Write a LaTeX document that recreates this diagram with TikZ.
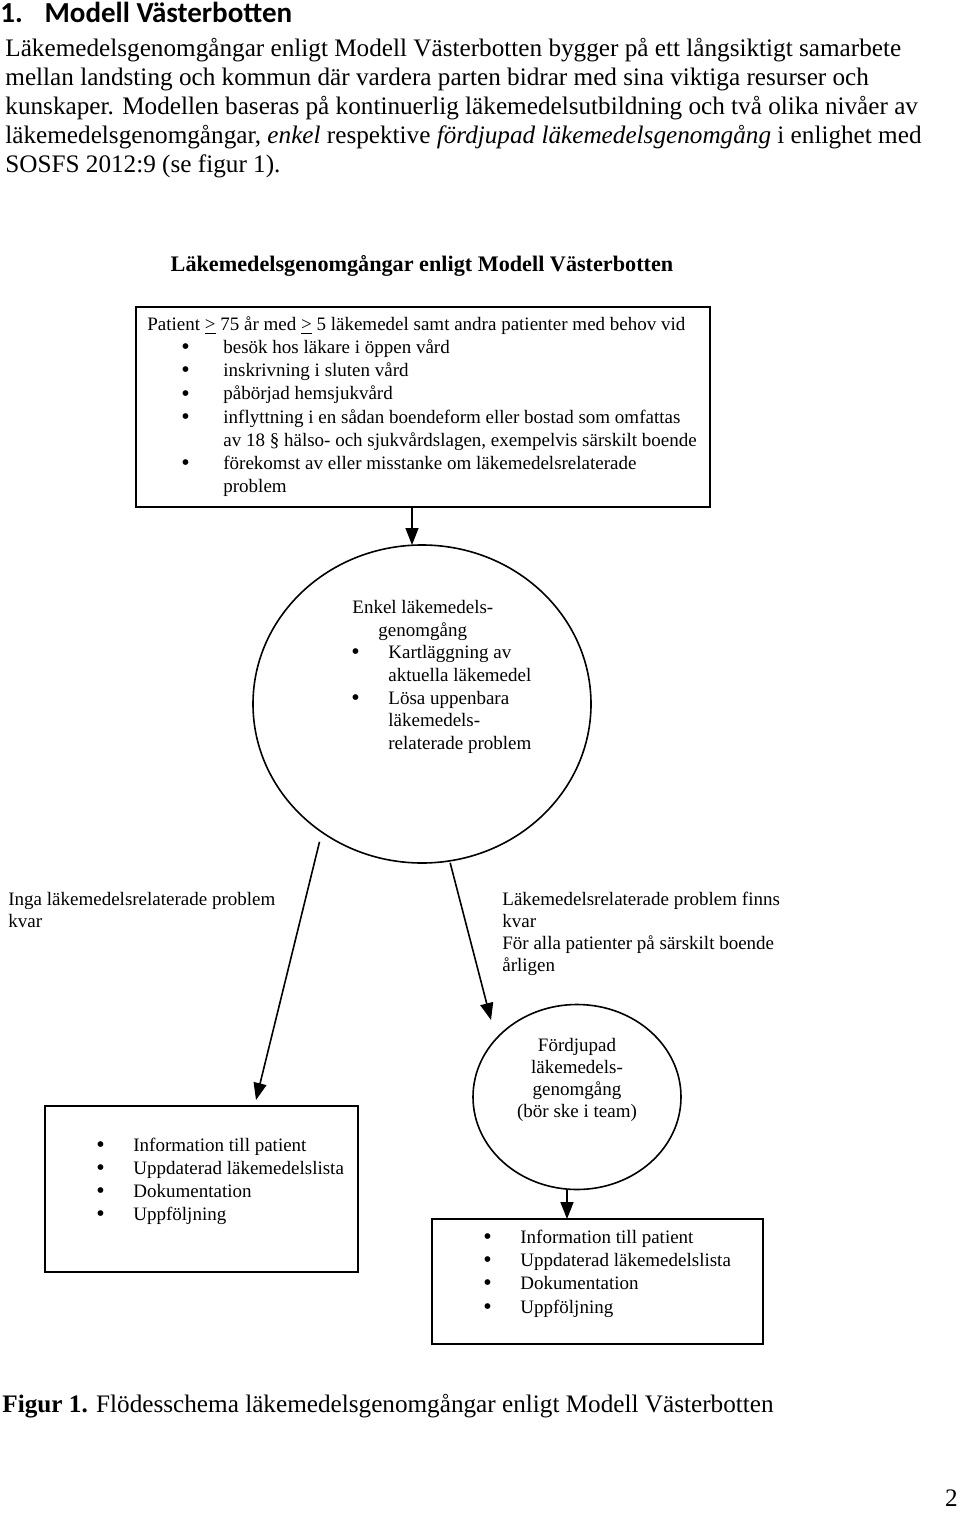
\documentclass[tikz,border=0pt]{standalone}
\usepackage{fontspec}
\setmainfont{Liberation Serif}
\newfontfamily\headfont{Carlito}
\usetikzlibrary{shapes.geometric,arrows.meta}
\newcommand\bodyfont{\fontsize{12.6}{14}\selectfont}
\newcommand\figfont{\fontsize{9.5}{11}\selectfont}
\newcommand\atleast{\underline{\smash{>}}}
\tikzset{
  line/.style={anchor=base west,inner sep=0pt,font=\bodyfont},
  txt/.style={anchor=base west,inner sep=0pt,font=\figfont},
  mid/.style={anchor=base,inner sep=0pt,font=\figfont},
  box/.style={draw,line width=1pt,inner sep=0pt,outer sep=0pt},
  oval/.style={draw,ellipse,line width=0.8pt,inner sep=0pt,outer sep=0pt},
  arr/.style={line width=0.8pt,-{Triangle[length=8.5pt,width=6.5pt]}}
}
\begin{document}
\begin{tikzpicture}[x=0.5pt,y=-0.5pt]
\def\BUL{{\fontsize{12}{11}\selectfont\textbullet}}
	\useasboundingbox (0,0) rectangle (960,1513);
	% page text
	\node[anchor=base west,inner sep=0pt,font=\headfont\bfseries\fontsize{14.5}{16}\selectfont] (heading) at (0,23) {1.\hspace{0.75em}Modell Västerbotten};
	\node[line] (p1) at (5,57) {Läkemedelsgenomgångar enligt Modell Västerbotten bygger på ett långsiktigt samarbete};
	\node[line] (p2) at (5,86) {mellan landsting och kommun där vardera parten bidrar med sina viktiga resurser och};
	\node[line] (p3) at (5,115) {kunskaper. Modellen baseras på kontinuerlig läkemedelsutbildning och två olika nivåer av};
	\node[line] (p4) at (5,144) {läkemedelsgenomgångar, \textit{enkel} respektive \textit{fördjupad läkemedelsgenomgång} i enlighet med};
	\node[line] (p5) at (5,173) {SOSFS 2012:9 (se figur 1).};
	% figure
	\node[anchor=base,inner sep=0pt,font=\fontsize{11.1}{12}\selectfont\bfseries] (title) at (422,272) {Läkemedelsgenomgångar enligt Modell Västerbotten};

	\node[box,minimum width=287pt,minimum height=100pt] (crit) at (423,407) {};
	\node[txt] (c0) at (147,331) {Patient \atleast{} 75 år med \atleast{} 5 läkemedel samt andra patienter med behov vid};
	\node[txt] (b1) at (181,355) {\BUL};
	\node[txt] (c1) at (223,354) {besök hos läkare i öppen vård};
	\node[txt] (b2) at (181,378) {\BUL};
	\node[txt] (c2) at (223,377) {inskrivning i sluten vård};
	\node[txt] (b3) at (181,401) {\BUL};
	\node[txt] (c3) at (223,400) {påbörjad hemsjukvård};
	\node[txt] (b4) at (181,424) {\BUL};
	\node[txt] (c4) at (223,423) {inflyttning i en sådan boendeform eller bostad som omfattas};
	\node[txt] (c5) at (223,446) {av 18 § hälso- och sjukvårdslagen, exempelvis särskilt boende};
	\node[txt] (b6) at (181,470) {\BUL};
	\node[txt] (c6) at (223,469) {förekomst av eller misstanke om läkemedelsrelaterade};
	\node[txt] (c7) at (223,492) {problem};

	\node[oval,minimum width=169pt,minimum height=159pt] (enkel) at (422,704) {};
	\node[txt] (e0) at (352,613) {Enkel läkemedels-};
	\node[txt] (e1) at (378,636) {genomgång};
	\node[txt] (eb1) at (351,659) {\BUL};
	\node[txt] (e2) at (388,658) {Kartläggning av};
	\node[txt] (e3) at (388,681) {aktuella läkemedel};
	\node[txt] (eb2) at (351,705) {\BUL};
	\node[txt] (e4) at (388,704) {Lösa uppenbara};
	\node[txt] (e5) at (388,726) {läkemedels-};
	\node[txt] (e6) at (388,749) {relaterade problem};

	\node[txt] (l0) at (8,905) {Inga läkemedelsrelaterade problem};
	\node[txt] (l1) at (8,927) {kvar};
	\node[txt] (r0) at (502,905) {Läkemedelsrelaterade problem finns};
	\node[txt] (r1) at (502,927) {kvar};
	\node[txt] (r2) at (502,949) {För alla patienter på särskilt boende};
	\node[txt] (r3) at (502,971) {årligen};

	\node[oval,minimum width=104pt,minimum height=92.5pt] (fordj) at (577,1097) {};
	\node[mid] (f0) at (577,1051) {Fördjupad};
	\node[mid] (f1) at (577,1073) {läkemedels-};
	\node[mid] (f2) at (577,1095) {genomgång};
	\node[mid] (f3) at (577,1117) {(bör ske i team)};

	\node[box,minimum width=156.5pt,minimum height=83pt] (atg1) at (201.5,1189) {};
	\node[txt] (ab1) at (96,1152) {\BUL};
	\node[txt] (a1) at (133,1151) {Information till patient};
	\node[txt] (ab2) at (96,1175) {\BUL};
	\node[txt] (a2) at (133,1174) {Uppdaterad läkemedelslista};
	\node[txt] (ab3) at (96,1198) {\BUL};
	\node[txt] (a3) at (133,1197) {Dokumentation};
	\node[txt] (ab4) at (96,1221) {\BUL};
	\node[txt] (a4) at (133,1220) {Uppföljning};

	\node[box,minimum width=165.5pt,minimum height=62.5pt] (atg2) at (597.5,1281.5) {};
	\node[txt] (gb1) at (483,1244) {\BUL};
	\node[txt] (g1) at (520,1243) {Information till patient};
	\node[txt] (gb2) at (483,1267) {\BUL};
	\node[txt] (g2) at (520,1266) {Uppdaterad läkemedelslista};
	\node[txt] (gb3) at (483,1290) {\BUL};
	\node[txt] (g3) at (520,1289) {Dokumentation};
	\node[txt] (gb4) at (483,1314) {\BUL};
	\node[txt] (g4) at (520,1313) {Uppföljning};

	% connectors
	\coordinate (ltip) at (256,1100);
	\coordinate (rtip) at (491,1020);
	\draw[arr] ([xshift=-5.5pt]crit.south) -- ([xshift=-5.5pt]crit.south |- enkel.north);
	\draw[arr,shorten <=5pt] (enkel.232) -- (ltip);
	\draw[arr,shorten <=1pt] (enkel.280) -- (rtip);
	\draw[arr] ([xshift=-5pt]fordj.south) -- ([xshift=-5pt]fordj.south |- atg2.north);

	% caption
	\node[line] (caption) at (2,1412) {\textbf{Figur 1.} Flödesschema läkemedelsgenomgångar enligt Modell Västerbotten};
	\node[anchor=base east,inner sep=0pt,font=\bodyfont] (page) at (958,1506) {2};
\end{tikzpicture}
\end{document}
